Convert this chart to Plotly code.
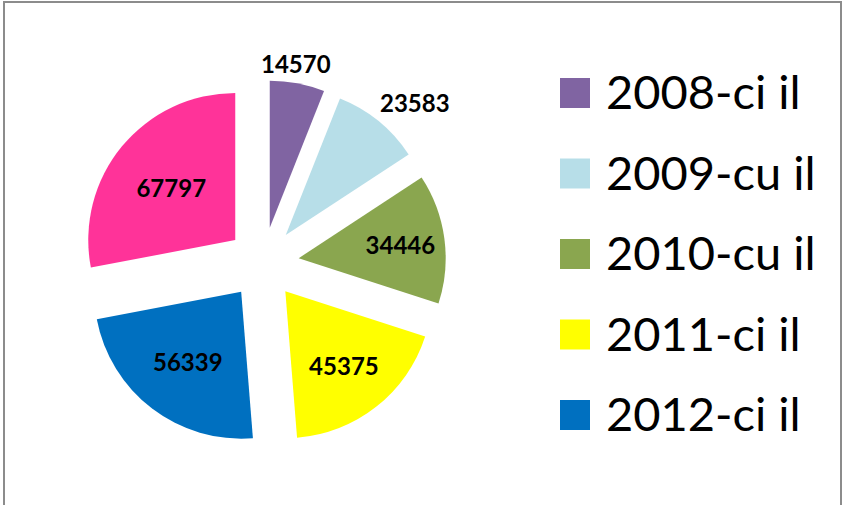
import plotly.graph_objects as go

years = ['2008-ci il', '2009-cu il', '2010-cu il', '2011-ci il', '2012-ci il', '2013-cü il']
values = [14570, 23583, 34446, 45375, 56339, 67797]
colors = ['#8064A2', '#B7DEE8', '#8AA64F', '#FFFF00', '#0070C0', '#FF3399']
legend_items = 5  # the original legend only shows the first five years

W, H = 845, 505
label_font = dict(family='Lato', size=24, color='black', weight='bold')

# the two small slices get their labels above the pie, the rest inside
outside_labels = {0: (296, 63), 1: (415, 103)}
slice_text = ['' if i in outside_labels else str(v) for i, v in enumerate(values)]

fig = go.Figure()
fig.add_trace(go.Pie(
    labels=years,
    values=values,
    sort=False,
    direction='clockwise',
    rotation=0,
    pull=[0.245] * len(values),
    marker=dict(colors=colors, line=dict(width=0)),
    text=slice_text,
    textinfo='text',
    textposition='inside',
    insidetextorientation='horizontal',
    textfont=label_font,
    domain=dict(x=[80 / W, 446 / W], y=[1 - 446 / H, 1 - 80 / H]),
    automargin=False,
    showlegend=False,
    hoverinfo='label+value',
))

# frame round the chart
shapes = [dict(type='rect', xref='paper', yref='paper',
               x0=4 / W, x1=841 / W, y0=-0.02, y1=1 - 2 / H,
               line=dict(color='#8C8C8C', width=2), fillcolor='rgba(0,0,0,0)')]
annotations = []
for i, (px, py) in outside_labels.items():
    annotations.append(dict(x=px / W, y=1 - py / H, xref='paper', yref='paper',
                            xanchor='center', yanchor='middle', showarrow=False,
                            text=str(values[i]), font=label_font))

# legend drawn by hand: big squares and big text like the original
for i in range(legend_items):
    yc = 93 + i * 80.5
    shapes.append(dict(type='rect', xref='paper', yref='paper',
                       x0=560 / W, x1=590 / W,
                       y0=1 - (yc + 15) / H, y1=1 - (yc - 15) / H,
                       fillcolor=colors[i], line=dict(width=0)))
    annotations.append(dict(x=604 / W, y=1 - (yc - 2) / H, xref='paper', yref='paper',
                            xanchor='left', yanchor='middle', showarrow=False,
                            text=years[i],
                            font=dict(family='Lato', size=47, color='black')))

fig.update_layout(
    width=W, height=H,
    margin=dict(l=0, r=0, t=0, b=0, autoexpand=False),
    showlegend=False,
    paper_bgcolor='white',
    plot_bgcolor='white',
    shapes=shapes,
    annotations=annotations,
)

fig.write_html("out.html", config={'displayModeBar': False},
               post_script="document.body.style.margin='0';document.body.style.overflow='hidden';")
